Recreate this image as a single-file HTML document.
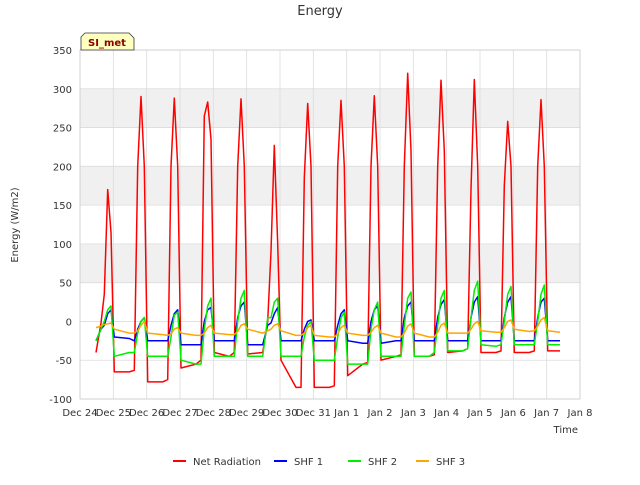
<!DOCTYPE html>
<html><head><meta charset="utf-8"><style>
body{margin:0;background:#fff;font-family:"Liberation Sans","DejaVu Sans",sans-serif;}
svg text{font-family:"DejaVu Sans","Liberation Sans",sans-serif;}
</style></head><body>
<svg id="c" width="640" height="480" xmlns="http://www.w3.org/2000/svg"></svg>
<script>
const xTickLabels=["Dec 24","Dec 25","Dec 26","Dec 27","Dec 28","Dec 29","Dec 30","Dec 31","Jan 1","Jan 2","Jan 3","Jan 4","Jan 5","Jan 6","Jan 7","Jan 8"];
const yTicks=[-100,-50,0,50,100,150,200,250,300,350];
const seriesNames=["Net Radiation","SHF 1","SHF 2","SHF 3"];
const seriesColors=["#ff0000","#0000ff","#00ee00","#ffa500"];
const dayOffsets=[-0.35,-0.2,-0.1,0,0.1,0.2];
const peakDays=[0.83,1.83,2.83,3.83,4.83,5.83,6.83,7.83,8.83,9.83,10.83,11.83,12.83,13.83];
const endDay=14.4;
const netRad=[
[-40,-2,35,170,115,-65],[-65,-63,200,290,200,-78],[-78,-75,200,288,200,-60],
[-55,-50,265,283,235,-40],[-45,-40,200,287,200,-42],[-40,0,90,227,100,-50],
[-85,-85,185,281,200,-85],[-85,-83,200,285,200,-70],[-55,-53,200,291,200,-50],
[-45,-43,200,320,220,-45],[-45,-43,200,311,220,-40],[-38,-35,170,312,200,-40],
[-40,-38,175,258,200,-40],[-40,-38,200,286,200,-38]];
const netRadEnd=-38;
const shf1=[
[-25,-10,-5,10,15,-20],[-22,-25,-10,0,5,-25],[-25,-25,-5,10,15,-30],
[-30,-30,0,15,18,-25],[-25,-25,5,20,25,-30],[-30,-5,-2,10,18,-25],
[-25,-25,-10,0,2,-25],[-25,-25,-5,10,15,-25],[-28,-28,0,15,20,-28],
[-25,-25,5,20,25,-25],[-25,-25,5,22,28,-25],[-25,-25,5,25,32,-25],
[-25,-25,5,25,32,-25],[-25,-25,5,25,30,-25]];
const shf1End=-25;
const shf2=[
[-25,-10,0,15,20,-45],[-40,-40,-15,0,5,-45],[-45,-45,-20,8,12,-50],
[-55,-55,-10,20,30,-45],[-45,-45,0,30,40,-45],[-45,5,5,25,30,-45],
[-45,-45,-20,-5,0,-50],[-50,-50,-20,5,12,-55],[-55,-55,-10,15,25,-45],
[-45,-45,-5,30,38,-45],[-45,-40,-5,30,40,-38],[-38,-35,5,40,52,-30],
[-32,-30,0,35,45,-30],[-30,-30,0,35,47,-30]];
const shf2End=-30;
const shf3=[
[-8,-6,-4,-3,-2,-10],[-15,-15,-12,-5,0,-15],[-17,-18,-16,-10,-8,-15],
[-18,-18,-15,-8,-5,-15],[-17,-17,-13,-5,-3,-10],[-15,-12,-10,-5,-3,-12],
[-18,-18,-15,-8,-5,-18],[-20,-20,-16,-8,-5,-15],[-18,-18,-14,-8,-5,-15],
[-20,-20,-15,-6,-3,-15],[-20,-20,-14,-5,-2,-15],[-15,-15,-10,-3,0,-12],
[-14,-14,-8,0,2,-10],[-13,-12,-6,2,5,-12]];
const shf3End=-14;
const seriesData=[netRad,shf1,shf2,shf3];
const seriesEnds=[netRadEnd,shf1End,shf2End,shf3End];

const NS="http://www.w3.org/2000/svg";
const svg=document.getElementById('c');
const L=80,R=580,T=50,B=399;
const xS=d=>L+d*(R-L)/15;
const yS=v=>B-(v+100)*(B-T)/450;
function mk(tag,attrs,parent){const e=document.createElementNS(NS,tag);for(const k in attrs)e.setAttribute(k,attrs[k]);(parent||svg).appendChild(e);return e;}

const bg=mk('rect',{x:L,y:T,width:R-L,height:B-T,fill:'#fff'});


[[250,300],[150,200],[50,100]].forEach(b=>{
  const r=mk('rect',{x:L,y:yS(b[1]),width:R-L,height:yS(b[0])-yS(b[1]),fill:'#f0f0f0'});
  
  
});
yTicks.forEach(v=>{
  const g=mk('line',{x1:L,x2:R,y1:yS(v),y2:yS(v),stroke:'#dcdcdc','stroke-width':0.8});
  
  
  const t=mk('text',{x:L-8,y:yS(v)+4,'text-anchor':'end','font-size':10,fill:'#333'});
  t.textContent=v;
  
  
});
xTickLabels.forEach((s,i)=>{
  const g=mk('line',{x1:xS(i),x2:xS(i),y1:T,y2:B,stroke:'#dcdcdc','stroke-width':0.8});
  
  
  const t=mk('text',{x:xS(i),y:B+17,'text-anchor':'middle','font-size':10,fill:'#333'});
  t.textContent=s;
  
  
});
const border=mk('rect',{x:L,y:T,width:R-L,height:B-T,fill:'none',stroke:'#ccc','stroke-width':0.8});



seriesData.forEach((rows,si)=>{
  const pts=[];
  rows.forEach((row,k)=>row.forEach((v,j)=>pts.push([peakDays[k]+dayOffsets[j],v])));
  pts.push([endDay,seriesEnds[si]]);
  const d=pts.map((p,i)=>(i?'L':'M')+xS(p[0]).toFixed(1)+','+yS(p[1]).toFixed(1)).join(' ');
  const p=mk('path',{d:d,fill:'none',stroke:seriesColors[si],'stroke-width':1.5,'stroke-linejoin':'round'});
  
  
});

const title=mk('text',{x:320,y:15,'text-anchor':'middle','font-size':13,fill:'#333'});
title.textContent='Energy';


const yt=mk('text',{x:18,y:225,'text-anchor':'middle','font-size':10,fill:'#333',transform:'rotate(-90 18 225)'});
yt.textContent='Energy (W/m2)';


const xt=mk('text',{x:578,y:433,'text-anchor':'end','font-size':10,fill:'#333'});
xt.textContent='Time';



const badge=mk('path',{d:'M81,50 L81,37 L85,33 L129,33 L134,38 L134,50 Z',fill:'#ffffc0',stroke:'#333','stroke-width':0.8});


const bt=mk('text',{x:107,y:46,'text-anchor':'middle','font-size':10,'font-weight':'bold',fill:'#8b0000'});
bt.textContent='SI_met';



const lx=[173,274,348,416];
seriesNames.forEach((n,i)=>{
  const g=mk('g',{});
  
  
  mk('line',{x1:lx[i],x2:lx[i]+13,y1:461,y2:461,stroke:seriesColors[i],'stroke-width':2},g);
  const t=mk('text',{x:lx[i]+20,y:465,'font-size':10,fill:'#333'},g);
  t.textContent=n;
});
</script>
</body></html>
